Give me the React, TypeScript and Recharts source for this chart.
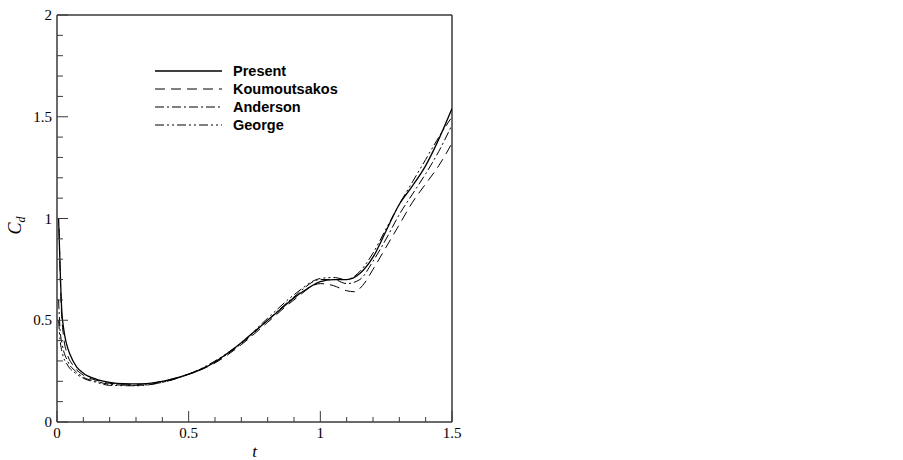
import { LineChart, Line, XAxis, YAxis, ReferenceLine, Label } from 'recharts'

const presentT = [0.006, 0.012, 0.018, 0.025, 0.035, 0.05, 0.075, 0.1, 0.15, 0.2, 0.25, 0.3, 0.35, 0.4, 0.45, 0.5, 0.55, 0.6, 0.65, 0.7, 0.75, 0.8, 0.85, 0.9, 0.95, 1.0, 1.05, 1.1, 1.15, 1.2, 1.25, 1.3, 1.35, 1.4, 1.45, 1.5]
const presentCd = [1.0, 0.75, 0.55, 0.46, 0.39, 0.33, 0.27, 0.24, 0.21, 0.195, 0.188, 0.187, 0.19, 0.2, 0.215, 0.235, 0.26, 0.295, 0.34, 0.39, 0.445, 0.5, 0.555, 0.61, 0.655, 0.69, 0.7, 0.7, 0.73, 0.81, 0.94, 1.07, 1.16, 1.26, 1.39, 1.54]

const koumT = [0.008, 0.015, 0.025, 0.04, 0.06, 0.1, 0.15, 0.2, 0.3, 0.4, 0.5, 0.6, 0.7, 0.8, 0.9, 1.0, 1.05, 1.1, 1.13, 1.16, 1.2, 1.25, 1.3, 1.35, 1.4, 1.45, 1.5]
const koumCd = [0.95, 0.6, 0.42, 0.33, 0.28, 0.23, 0.205, 0.19, 0.185, 0.2, 0.235, 0.29, 0.38, 0.49, 0.6, 0.68, 0.67, 0.645, 0.64, 0.67, 0.75, 0.86, 0.97, 1.08, 1.17, 1.26, 1.37]

const andersonT = [0.006, 0.012, 0.02, 0.04, 0.07, 0.1, 0.15, 0.2, 0.3, 0.4, 0.5, 0.6, 0.7, 0.8, 0.9, 1.0, 1.05, 1.1, 1.15, 1.2, 1.25, 1.3, 1.35, 1.4, 1.45, 1.5]
const andersonCd = [0.6, 0.45, 0.38, 0.3, 0.25, 0.22, 0.2, 0.185, 0.18, 0.195, 0.235, 0.295, 0.385, 0.5, 0.615, 0.7, 0.7, 0.68, 0.7, 0.79, 0.9, 1.02, 1.12, 1.22, 1.33, 1.46]

const georgeT = [0.006, 0.012, 0.02, 0.04, 0.07, 0.1, 0.15, 0.2, 0.3, 0.4, 0.5, 0.6, 0.7, 0.8, 0.9, 1.0, 1.05, 1.1, 1.15, 1.2, 1.25, 1.3, 1.35, 1.4, 1.45, 1.5]
const georgeCd = [0.5, 0.4, 0.34, 0.28, 0.24, 0.215, 0.195, 0.18, 0.178, 0.195, 0.235, 0.3, 0.39, 0.51, 0.625, 0.705, 0.71, 0.7, 0.74, 0.83, 0.95, 1.07, 1.18, 1.29, 1.4, 1.5]

const xTicks = [0, 0.1, 0.2, 0.3, 0.4, 0.5, 0.6, 0.7, 0.8, 0.9, 1, 1.1, 1.2, 1.3, 1.4, 1.5]
const xMajor = [0, 0.5, 1, 1.5]
const yTicks = [0, 0.1, 0.2, 0.3, 0.4, 0.5, 0.6, 0.7, 0.8, 0.9, 1, 1.1, 1.2, 1.3, 1.4, 1.5, 1.6, 1.7, 1.8, 1.9, 2]
const yMajor = [0, 0.5, 1, 1.5, 2]

const zip = (t: number[], c: number[]) => t.map((v, i) => ({ t: v, cd: c[i] }))

const series = [
  { name: 'Present', data: zip(presentT, presentCd), dash: undefined, width: 1.3 },
  { name: 'Koumoutsakos', data: zip(koumT, koumCd), dash: '10 6', width: 1 },
  { name: 'Anderson', data: zip(andersonT, andersonCd), dash: '9 3 2 3', width: 1 },
  { name: 'George', data: zip(georgeT, georgeCd), dash: '9 3 2 3 2 3', width: 1 },
]

const axisColor = '#3a3a3a'
const serif = '"Liberation Serif", "Times New Roman", serif'
const serifStyle = { fontFamily: serif }

function isMajor(v: number, majors: number[]) {
  return majors.some((m) => Math.abs(m - v) < 1e-6)
}

function YTick(props: any) {
  const { x, y, payload } = props
  const major = isMajor(payload.value, yMajor)
  return (
    <g>
      <line x1={x} x2={x + (major ? 11 : 6)} y1={y} y2={y} stroke={axisColor} strokeWidth={1} />
      {major && (
        <text x={x - 5} y={y + 5} textAnchor="end" style={serifStyle} fontSize={15} fill="#000">
          {String(payload.value)}
        </text>
      )}
    </g>
  )
}

function XTick(props: any) {
  const { x, y, payload } = props
  const major = isMajor(payload.value, xMajor)
  return (
    <g>
      <line x1={x} x2={x} y1={y} y2={y - (major ? 11 : 5)} stroke={axisColor} strokeWidth={1} />
      {major && (
        <text x={x} y={y + 16} textAnchor="middle" style={serifStyle} fontSize={15} fill="#000">
          {String(payload.value)}
        </text>
      )}
    </g>
  )
}

// legend sits inside the plot, drawn over the chart
function LegendBox() {
  return (
    <div
      style={{
        position: 'absolute',
        left: 154,
        top: 62,
        fontFamily: '"Liberation Sans", Arial, sans-serif',
        fontWeight: 'bold',
        fontSize: 14.5,
      }}
    >
      {series.map((s) => (
        <div key={s.name} style={{ display: 'flex', alignItems: 'center', height: 18 }}>
          <svg width={70} height={10} style={{ marginRight: 9 }}>
            <line x1={1} x2={68} y1={5} y2={5} stroke="#000" strokeWidth={s.width} strokeDasharray={s.dash} />
          </svg>
          <span>{s.name}</span>
        </div>
      ))}
    </div>
  )
}

export default function App() {
  return (
    <div style={{ position: 'absolute', left: 0, top: 0, width: 903, height: 460, background: '#fff' }}>
      <LineChart width={903} height={460} margin={{ top: 15, right: 451, bottom: 8, left: 17 }}>
        <XAxis
          type="number"
          dataKey="t"
          domain={[0, 1.5]}
          ticks={xTicks}
          interval={0}
          tick={<XTick />}
          tickSize={0}
          tickMargin={0}
          tickLine={false}
          height={30}
          stroke={axisColor}
          strokeWidth={1.5}
          allowDataOverflow
        >
          <Label
            content={(p: any) => (
              <text x={p.viewBox.x + p.viewBox.width / 2} y={457} textAnchor="middle" style={serifStyle} fontStyle="italic" fontSize={17}>
                t
              </text>
            )}
          />
        </XAxis>
        <YAxis
          type="number"
          domain={[0, 2]}
          ticks={yTicks}
          interval={0}
          tick={<YTick />}
          tickSize={0}
          tickMargin={0}
          tickLine={false}
          width={40}
          stroke={axisColor}
          strokeWidth={1.5}
          allowDataOverflow
        >
          <Label
            content={(p: any) => {
              const cx = 21
              const cy = p.viewBox.y + p.viewBox.height / 2 + 7
              return (
                <text transform={`rotate(-90, ${cx}, ${cy})`} x={cx} y={cy} textAnchor="middle" style={serifStyle} fontStyle="italic" fontSize={18}>
                  C
                  <tspan fontSize={12} dy={4}>d</tspan>
                </text>
              )
            }}
          />
        </YAxis>
        <ReferenceLine y={2} stroke={axisColor} strokeWidth={1.5} />
        <ReferenceLine x={1.5} stroke={axisColor} strokeWidth={1.5} />
        {series.map((s) => (
          <Line
            key={s.name}
            data={s.data}
            dataKey="cd"
            name={s.name}
            type="monotone"
            stroke="#000"
            strokeWidth={s.width}
            strokeDasharray={s.dash}
            dot={false}
            isAnimationActive={false}
          />
        ))}
      </LineChart>
      <LegendBox />
    </div>
  )
}
